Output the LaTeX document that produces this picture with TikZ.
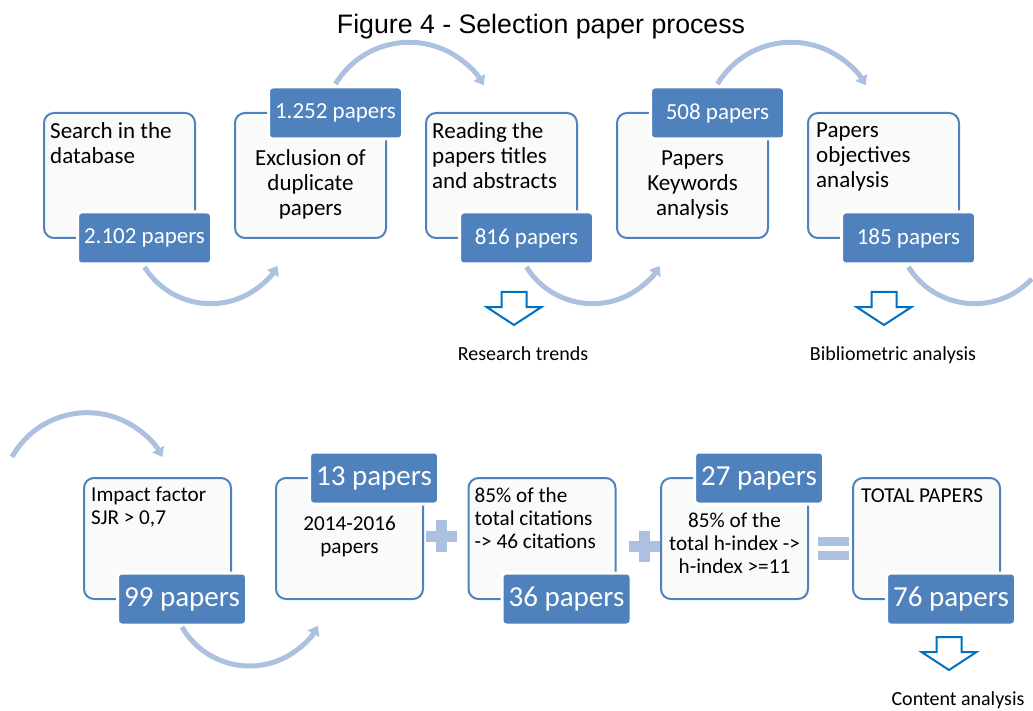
\documentclass[tikz,border=0pt]{standalone}
\usepackage{fontspec}
\setmainfont{Carlito}
\newfontfamily\titlefont{Liberation Sans}
\usepackage{tikz}
\usetikzlibrary{arrows.meta, positioning, calc}
\usepackage{xcolor}
\definecolor{stepblue}{RGB}{79,129,189}
\definecolor{sweepblue}{RGB}{172,192,224}
\definecolor{outblue}{RGB}{0,112,192}
\definecolor{boxfill}{RGB}{250,250,250}

\begin{document}
\begin{tikzpicture}[
    x=1pt, y=-1pt,
    stage/.style={rectangle, rounded corners=10pt, draw=stepblue, fill=boxfill, line width=2pt, minimum width=151pt, minimum height=125pt, outer sep=0pt},
    badge/.style={rectangle, rounded corners=4pt, draw=white, fill=stepblue, line width=3pt, text=white, minimum width=134pt, minimum height=52pt, inner sep=0pt, outer sep=0pt, font=\fontsize{23}{25}\selectfont},
    body/.style={inner sep=0pt, align=#1, font=\fontsize{23}{25}\selectfont},
    smallbody/.style={inner sep=0pt, align=#1, font=\fontsize{21.2}{23}\selectfont},
    sweep/.style={draw=sweepblue, line width=5pt},
    tip/.style={-{Triangle[length=9pt, width=13pt]}},
    result/.style={draw=outblue, fill=white, line width=2pt, line join=miter},
    outlabel/.style={inner sep=0pt, anchor=north, font=\fontsize{20}{22}\selectfont},
]
    \useasboundingbox (0,0) rectangle (1033,711);

    % Title
    \node[anchor=base, font=\titlefont\fontsize{26.7}{30}\selectfont] (title) at (541,34) {Figure 4 - Selection paper process};

    % First row
    \node[stage] (search) at (119.5,175.5) {};
    \node[stage] (dupl) at (310.5,175.5) {};
    \node[stage] (read) at (501.5,175.5) {};
    \node[stage] (keyw) at (692.5,175.5) {};
    \node[stage] (obj) at (883.5,175.5) {};

    \node[body=left, below right=9pt and 6pt of search.north west] (searchtxt) {Search in the\\database};
    \node[body=center, below=36pt of dupl.north] (dupltxt) {Exclusion of\\duplicate\\papers};
    \node[body=left, below right=9pt and 6pt of read.north west] (readtxt) {Reading the\\papers titles\\and abstracts};
    \node[body=center, below=38pt of keyw.north] (keywtxt) {Papers\\Keywords\\analysis};
    \node[body=left, below right=10pt and 8pt of obj.north west] (objtxt) {Papers\\objectives\\analysis};

    % Paper counts
    \node[badge] (p2102) at ([xshift=25pt]search.south) {2.102 papers};
    \node[badge] (p1252) at ([xshift=25pt]dupl.north) {1.252 papers};
    \node[badge] (p816) at ([xshift=25pt]read.south) {816 papers};
    \node[badge] (p508) at ([xshift=25pt]keyw.north) {508 papers};
    \node[badge] (p185) at ([xshift=25pt]obj.south) {185 papers};

    % Outcomes
    \node[outlabel] (trends) at (523,346) {Research trends};
    \node[outlabel] (biblio) at (893,346) {Bibliometric analysis};

    % Second row
    \node[stage, minimum width=147pt, minimum height=121pt] (impact) at (157.5,538.5) {};
    \node[stage, minimum width=147pt, minimum height=121pt] (years) at (349.5,538.5) {};
    \node[stage, minimum width=147pt, minimum height=121pt] (cites) at (542,538.5) {};
    \node[stage, minimum width=147pt, minimum height=121pt] (hindex) at (734.5,538.5) {};
    \node[stage, minimum width=147pt, minimum height=121pt] (total) at (926.5,538.5) {};

    \node[smallbody=left, below right=9pt and 7pt of impact.north west] (impacttxt) {Impact factor\\SJR > 0,7};
    \node[smallbody=center, below=37.5pt of years.north] (yearstxt) {2014-2016\\papers};
    \node[smallbody=left, below right=10pt and 6pt of cites.north west] (citestxt) {85\% of the\\total citations\\-> 46 citations};
    \node[smallbody=center, below=35pt of hindex.north] (hindextxt) {85\% of the\\total h-index ->\\h-index >=11};
    \node[smallbody=left, below right=11pt and 8pt of total.north west] (totaltxt) {TOTAL PAPERS};

    \node[badge, minimum width=129pt, font=\fontsize{29}{32}\selectfont] (p99) at ([xshift=24.5pt]impact.south) {99 papers};
    \node[badge, minimum width=129pt, font=\fontsize{29}{32}\selectfont] (p13) at ([xshift=24.5pt]years.north) {13 papers};
    \node[badge, minimum width=129pt, font=\fontsize{29}{32}\selectfont] (p36) at ([xshift=24.5pt]cites.south) {36 papers};
    \node[badge, minimum width=129pt, font=\fontsize{29}{32}\selectfont] (p27) at ([xshift=24.5pt]hindex.north) {27 papers};
    \node[badge, minimum width=129pt, font=\fontsize{29}{32}\selectfont] (p76) at ([xshift=24.5pt]total.south) {76 papers};

    \node[outlabel] (content) at (958,691) {Content analysis};

    % Plus and equals
    \fill[sweepblue] (426,531) rectangle (457,542);
    \fill[sweepblue] (436,520) rectangle (447,552);
    \fill[sweepblue] (629,541) rectangle (660,552);
    \fill[sweepblue] (639,531) rectangle (650,562);
    \fill[sweepblue] (818,537) rectangle (849,546);
    \fill[sweepblue] (818,551) rectangle (849,560);

    % Sweeping arrows
    \coordinate (wrap) at (12,457);
    \draw[sweep, tip] ([yshift=-3pt]p2102.south) arc[start angle=148, end angle=31, radius=78];
    \draw[sweep, tip] ([yshift=3pt]p1252.north) arc[start angle=211, end angle=330, radius=86];
    \draw[sweep, tip] ([yshift=-3pt]p816.south) arc[start angle=148, end angle=31, radius=78];
    \draw[sweep, tip] ([yshift=3pt]p508.north) arc[start angle=211, end angle=330, radius=86];
    \draw[sweep] ([yshift=-3pt]p185.south) arc[start angle=148, end angle=43, radius=78];
    \draw[sweep, tip] (wrap) arc[start angle=209, end angle=331, radius=86];
    \draw[sweep, tip] ([yshift=-2pt]p99.south) arc[start angle=150, end angle=29, radius=78];

    % Hollow down arrows
    \foreach \lab in {trends, biblio, content}
        \draw[result] ([xshift=-9pt, yshift=21pt]\lab.north) -- ++(-27.5,-18) -- ++(15,0) -- ++(0,-15) -- ++(25,0) -- ++(0,15) -- ++(15,0) -- cycle;

\end{tikzpicture}
\end{document}
